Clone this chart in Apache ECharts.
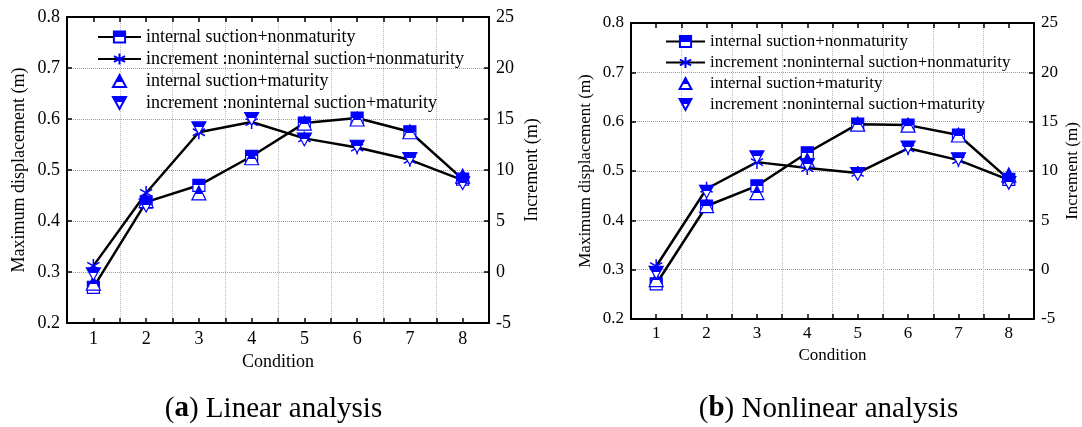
<!DOCTYPE html>
<html>
<head>
<meta charset="utf-8">
<script src="https://cdn.jsdelivr.net/npm/echarts@6/dist/echarts.min.js"></script>
<style>
html,body{margin:0;padding:0;background:#fff;}
#c{width:1082px;height:427px;}
</style>
</head>
<body>
<div id="c"></div>
<script>
// ---- data ----
const categories = ['1','2','3','4','5','6','7','8'];
const seriesNames = [
  'internal suction+nonmaturity',
  'increment :noninternal suction+nonmaturity',
  'internal suction+maturity',
  'increment :noninternal suction+maturity'
];
const leftTicks = [0.2,0.3,0.4,0.5,0.6,0.7,0.8];
const rightTicks = [-5,0,5,10,15,20,25];
// (a) Linear analysis
const aSuctionNonmat = [0.270,0.437,0.470,0.527,0.592,0.602,0.575,0.482];
const aIncNonmat     = [0.6,7.75,13.7,14.7,13.1,12.2,11.0,9.0];
const aSuctionMat    = [0.278,0.440,0.455,0.524,0.592,0.600,0.575,0.488];
const aIncMat        = [-0.2,6.5,14.1,15.0,13.0,12.3,11.1,8.7];
// (b) Nonlinear analysis
const bSuctionNonmat = [0.271,0.429,0.470,0.537,0.595,0.593,0.573,0.483];
const bIncNonmat     = [0.35,8.2,10.9,10.3,9.8,12.3,11.1,9.1];
const bSuctionMat    = [0.280,0.430,0.456,0.522,0.595,0.593,0.573,0.492];
const bIncMat        = [-0.3,7.9,11.4,10.6,9.7,12.4,11.2,8.8];
const captions = ['Linear analysis','Nonlinear analysis'];

// ---- styles ----
const SERIF = 'Liberation Serif';
const BLUE = '#0000ff';
function half(c, off){
  return {type:'linear',x:0,y:0,x2:0,y2:1,colorStops:[
    {offset:0,color:c},{offset:off,color:c},{offset:off,color:'#fff'},{offset:1,color:'#fff'}]};
}
const SYM_ASTER = 'path://M10,0 L10,20 M1.34,5 L18.66,15 M1.34,15 L18.66,5';
const SYM_DOWN = 'path://M0,0 L20,0 L10,18 Z';
// legend icons: small marker centred in a wide (invisible) box
const LEG_UP = 'path://M0,6 L0.01,6 M21.5,0 L28,12 L15,12 Z M43,6 L42.99,6';
const LEG_DOWN = 'path://M0,6 L0.01,6 M15,0 L28,0 L21.5,12 Z M43,6 L42.99,6';

const layouts = [
  {left:67, top:17, width:422, height:306, fs:18, xGap:25, xMargin:7, yGap:39, ryGap:34, legLeft:97, legTop:28, legW:43, legFs:18, capX:273.5},
  {left:631, top:23, width:403, height:296, fs:17, xGap:23, xMargin:6, yGap:37, ryGap:30, legLeft:665, legTop:33, legW:39, legFs:17, capX:828.5}
];

const grids=[], xAxes=[], yAxes=[], series=[], legends=[], graphics=[];
const dataSets = [
  [aSuctionNonmat,aIncNonmat,aSuctionMat,aIncMat],
  [bSuctionNonmat,bIncNonmat,bSuctionMat,bIncMat]
];
layouts.forEach((L,gi)=>{
  grids.push({left:L.left, top:L.top, width:L.width, height:L.height, containLabel:false});
  const txt = {fontFamily:SERIF, fontSize:L.fs, color:'#000'};
  const tick = {show:true, inside:true, length:5, interval:0, lineStyle:{color:'#000', width:1.5}};
  const line = {show:true, onZero:false, lineStyle:{color:'#000', width:2}};
  // bottom main
  xAxes.push({gridIndex:gi, type:'category', data:categories, position:'bottom', boundaryGap:true,
    axisLine:line, axisTick:tick,
    axisLabel:Object.assign({interval:0, margin:L.xMargin}, txt),
    splitLine:{show:true, interval:0, lineStyle:{type:'dotted', color:'#bbb', width:1}},
    name:'Condition', nameLocation:'middle', nameGap:L.xGap, nameTextStyle:txt});
  // bottom integer ticks
  xAxes.push({gridIndex:gi, type:'category', data:categories, position:'bottom', boundaryGap:true,
    axisLine:{show:false, onZero:false}, axisTick:Object.assign({alignWithLabel:true}, tick),
    axisLabel:{show:false}, splitLine:{show:false}});
  // top
  xAxes.push({gridIndex:gi, type:'category', data:categories, position:'top', boundaryGap:true,
    axisLine:line, axisTick:tick,
    axisLabel:{show:false}, splitLine:{show:false}});
  xAxes.push({gridIndex:gi, type:'category', data:categories, position:'top', boundaryGap:true,
    axisLine:{show:false, onZero:false}, axisTick:Object.assign({alignWithLabel:true}, tick),
    axisLabel:{show:false}, splitLine:{show:false}});
  yAxes.push({gridIndex:gi, type:'value', position:'left', min:leftTicks[0], max:leftTicks[leftTicks.length-1], interval:0.1,
    axisLine:line, axisTick:{show:true, inside:true, length:5, lineStyle:{color:'#000', width:1.5}},
    axisLabel:Object.assign({margin:7, formatter:v=>v.toFixed(1)}, txt),
    splitLine:{show:true, lineStyle:{type:'dotted', color:'#999', width:1}},
    name:'Maximum displacement (m)', nameLocation:'middle', nameRotate:90, nameGap:L.yGap, nameTextStyle:txt});
  yAxes.push({gridIndex:gi, type:'value', position:'right', min:rightTicks[0], max:rightTicks[rightTicks.length-1], interval:5,
    axisLine:line, axisTick:{show:true, inside:true, length:5, lineStyle:{color:'#000', width:1.5}},
    axisLabel:Object.assign({margin:7}, txt),
    splitLine:{show:false},
    name:'Increment (m)', nameLocation:'middle', nameRotate:90, nameGap:L.ryGap, nameTextStyle:txt});
  const xi = gi*4, yl = gi*2, yr = gi*2+1;
  const d = dataSets[gi];
  series.push({name:seriesNames[0], type:'line', xAxisIndex:xi, yAxisIndex:yl, data:d[0],
    symbol:'rect', symbolSize:12, symbolKeepAspect:true, lineStyle:{color:'#000', width:2.5},
    itemStyle:{color:half(BLUE,0.5), borderColor:BLUE, borderWidth:1.2}, z:3});
  series.push({name:seriesNames[1], type:'line', xAxisIndex:xi, yAxisIndex:yr, data:d[1],
    symbol:SYM_ASTER, symbolSize:14, symbolKeepAspect:true, lineStyle:{color:'#000', width:2.5},
    itemStyle:{color:'rgba(0,0,0,0)', borderColor:BLUE, borderWidth:1.5}, z:3});
  series.push({name:seriesNames[2], type:'scatter', xAxisIndex:xi, yAxisIndex:yl, data:d[2],
    symbol:'triangle', symbolSize:14, symbolKeepAspect:true,
    itemStyle:{color:half(BLUE,0.55), borderColor:BLUE, borderWidth:1.2, opacity:1}, z:5});
  series.push({name:seriesNames[3], type:'scatter', xAxisIndex:xi, yAxisIndex:yr, data:d[3],
    symbol:SYM_DOWN, symbolSize:14, symbolKeepAspect:true,
    itemStyle:{color:half(BLUE,0.45), borderColor:BLUE, borderWidth:1.2, opacity:1}, z:5});
  legends.push({left:L.legLeft, top:L.legTop, orient:'vertical', itemWidth:L.legW, itemHeight:14, itemGap:4,
    padding:0, selectedMode:false, textStyle:{fontFamily:SERIF, fontSize:L.legFs, color:'#000'},
    data:[{name:seriesNames[0]},{name:seriesNames[1]},{name:seriesNames[2], icon:LEG_UP},{name:seriesNames[3], icon:LEG_DOWN}]});
  graphics.push({type:'text', x:L.capX, y:409,
    style:{text:'({b|' + (gi===0?'a':'b') + '}) ' + captions[gi], fontFamily:SERIF, fontSize:29, fill:'#000',
      align:'center', verticalAlign:'middle',
      rich:{b:{fontFamily:SERIF, fontSize:29, fontWeight:'bold', fill:'#000'}}}});
});

const chart = echarts.init(document.getElementById('c'), null, {renderer:'canvas'});
chart.setOption({
  animation:false,
  backgroundColor:'#fff',
  grid:grids, xAxis:xAxes, yAxis:yAxes, series:series, legend:legends, graphic:graphics
});
</script>
</body>
</html>
